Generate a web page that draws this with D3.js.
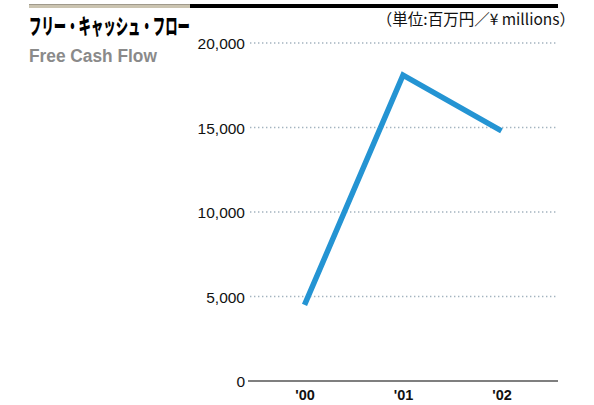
<!DOCTYPE html>
<html><head><meta charset="utf-8">
<script src="https://cdn.jsdelivr.net/npm/d3@7"></script>
<style>body{margin:0;background:#fff}svg{display:block}</style>
</head><body>
<svg id="c" width="594" height="405"></svg>
<script>
const years = ["'00", "'01", "'02"];
const values = [4500, 18100, 14800];
const yTicks = [0, 5000, 10000, 15000, 20000];
const titleJa = "フリー・キャッシュ・フロー";
const titleEn = "Free Cash Flow";
const unitLabel = "（単位:百万円／¥ millions）";

const svg = d3.select("#c");
const x = d3.scalePoint().domain(years).range([248, 558]).padding(0.574);
const y = d3.scaleLinear().domain([0, 20000]).range([381, 43]);

// top bars
svg.append("rect").attr("x", 29).attr("y", 4).attr("width", 161).attr("height", 4).attr("fill", "#cbc4b1");
svg.append("line").attr("x1", 29).attr("x2", 190).attr("y1", 4.5).attr("y2", 4.5).attr("stroke", "#a09a8c").attr("stroke-width", 1);
svg.append("rect").attr("x", 190).attr("y", 4).attr("width", 368).attr("height", 4).attr("fill", "#000");

// condensed text helper: scale horizontally to a target width
function condensed(txt, x0, y0, width, attrs) {
  const g = svg.append("g");
  const t = g.append("text").attr("x", 0).attr("y", 0).text(txt);
  Object.entries(attrs).forEach(([k, v]) => t.attr(k, v));
  const w = t.node().getComputedTextLength();
  g.attr("transform", `translate(${x0},${y0}) scale(${width / w},1)`);
  return t;
}
condensed(titleJa, 29, 34, 161, {"font-family": "'Noto Sans CJK JP', sans-serif", "font-weight": 900,
  "font-size": 22, "fill": "#000"});
condensed(titleEn, 29, 62, 128, {"font-family": "'Liberation Sans', Arial, sans-serif", "font-weight": "bold",
  "font-size": 18.5, "fill": "#8a8a8a"});

svg.append("text").attr("x", 575).attr("y", 25).attr("text-anchor", "end")
  .attr("font-family", "'Noto Sans CJK JP', 'Liberation Sans', sans-serif").attr("font-size", 15.5)
  .attr("fill", "#111").text(unitLabel);

// gridlines
svg.append("g").selectAll("line").data(yTicks.filter(d => d > 0)).join("line")
  .attr("x1", 250).attr("x2", 556).attr("y1", d => y(d)).attr("y2", d => y(d))
  .attr("stroke", "#a3b3bf").attr("stroke-width", 1.4).attr("stroke-dasharray", "1.4,2.6");

// y axis labels
const yAxis = d3.axisLeft(y).tickValues(yTicks).tickSize(0).tickPadding(0)
  .tickFormat(d => d3.format(",")(d));
const gy = svg.append("g").attr("transform", "translate(245,0)").call(yAxis);
gy.select(".domain").remove();
gy.selectAll("text").attr("font-family", "'Liberation Sans', Arial, sans-serif").attr("font-size", 15.5)
  .attr("fill", "#111").attr("dy", "0.36em");

// baseline
svg.append("line").attr("x1", 248).attr("x2", 558).attr("y1", y(0)).attr("y2", y(0))
  .attr("stroke", "#555").attr("stroke-width", 1.5);

// x axis labels
const xAxis = d3.axisBottom(x).tickSize(0).tickPadding(0);
const gx = svg.append("g").attr("transform", "translate(0,389)").call(xAxis);
gx.select(".domain").remove();
gx.selectAll("text").attr("font-family", "'Liberation Sans', Arial, sans-serif").attr("font-weight", "bold")
  .attr("font-size", 14.5).attr("fill", "#111").attr("dy", "0.75em");

// line
const line = d3.line().x((d, i) => x(years[i])).y(d => y(d));
svg.append("path").datum(values).attr("d", line).attr("fill", "none")
  .attr("stroke", "#2494d3").attr("stroke-width", 5.5).attr("stroke-linejoin", "miter");
</script>
</body></html>
